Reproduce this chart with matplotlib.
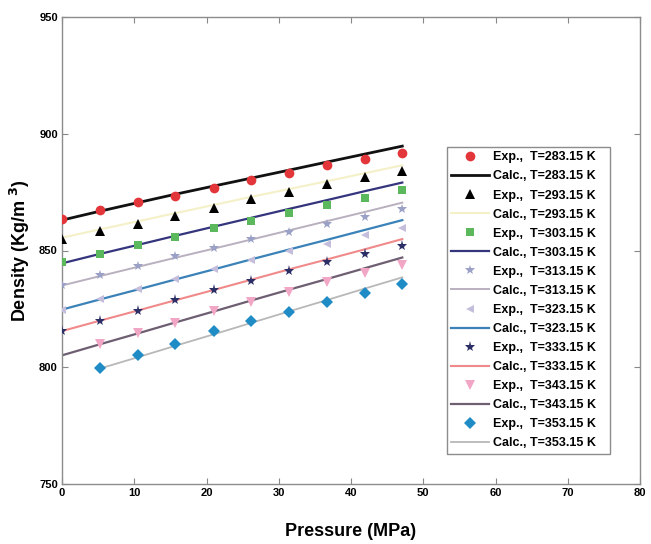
import numpy as np
import matplotlib
matplotlib.use('Agg')
import matplotlib.pyplot as plt

plt.rcParams['font.family'] = ['Liberation Sans', 'DejaVu Sans']
plt.rcParams['font.weight'] = 'bold'

# pressure grid (MPa)
pressure = [0, 5.2, 10.5, 15.7, 21.0, 26.2, 31.4, 36.7, 41.9, 47.1]
pressure_hi = pressure[1:]  # series that start at the second pressure

# experimental densities (kg/m3)
exp_283 = [863.6, 867.4, 870.8, 873.4, 876.8, 880.2, 883.2, 886.6, 889.2, 891.8]
exp_293 = [855.0, 858.5, 861.4, 864.9, 868.3, 872.1, 875.1, 878.5, 881.5, 884.1]
exp_303 = [845.0, 848.6, 852.5, 855.9, 859.7, 862.7, 866.1, 869.6, 872.5, 876.0]
exp_313 = [835.4, 839.7, 843.5, 847.8, 851.2, 855.0, 858.0, 861.4, 864.4, 867.8]
exp_323 = [824.7, 829.4, 833.7, 838.0, 842.2, 846.1, 849.9, 852.9, 856.8, 859.7]
exp_333 = [815.5, 819.8, 824.3, 828.6, 833.1, 837.1, 841.1, 844.9, 848.5, 852.1]
exp_343 = [809.8, 814.5, 818.8, 824.3, 827.9, 832.1, 836.4, 840.3, 844.0]
exp_353 = [799.8, 805.1, 810.1, 815.5, 819.6, 823.6, 827.9, 831.8, 835.7]

# calculated densities (kg/m3)
calc_283 = [863.0, 866.8, 870.5, 874.1, 877.6, 881.0, 884.4, 887.9, 891.3, 894.7]
calc_293 = [855.5, 859.0, 862.5, 866.0, 869.5, 873.0, 876.3, 879.7, 883.1, 886.5]
calc_303 = [844.5, 848.5, 852.4, 856.3, 860.2, 864.0, 867.8, 871.6, 875.4, 879.1]
calc_313 = [835.0, 839.0, 843.0, 846.9, 850.8, 854.7, 858.6, 862.6, 866.5, 870.5]
calc_323 = [824.7, 829.0, 833.3, 837.6, 841.9, 846.2, 850.4, 854.6, 858.8, 863.0]
calc_333 = [815.5, 819.9, 824.3, 828.7, 833.1, 837.5, 841.9, 846.2, 850.5, 854.9]
calc_343 = [805.1, 809.8, 814.5, 819.2, 823.9, 828.6, 833.2, 837.8, 842.4, 847.0]
calc_353 = [799.4, 804.3, 809.2, 814.1, 819.0, 823.9, 828.8, 833.7, 838.5]

temps = ['283.15', '293.15', '303.15', '313.15', '323.15', '333.15', '343.15', '353.15']

exp_sets = [exp_283, exp_293, exp_303, exp_313, exp_323, exp_333, exp_343, exp_353]
calc_sets = [calc_283, calc_293, calc_303, calc_313, calc_323, calc_333, calc_343, calc_353]
exp_x = [pressure] * 6 + [pressure_hi] * 2
calc_x = [pressure] * 7 + [pressure_hi]

markers = ['o', '^', 's', '*', '<', '*', 'v', 'D']
msizes = [7, 7, 6, 7, 6, 8, 7, 6]
mcolors = ['#e2363a', '#000000', '#5cb85c', '#9aa0c6', '#c4bedc', '#2c2f66', '#f2a6c6', '#1f8cc6']
lcolors = ['#111111', '#f4f0c8', '#35357e', '#b9b0bf', '#3b82b8', '#f08a8a', '#6e5e72', '#b8b8b8']
lwidths = [2.0, 1.5, 1.6, 1.4, 1.6, 1.5, 1.6, 1.3]

fig = plt.figure(figsize=(6.51, 5.44), dpi=100)
ax = fig.add_axes([62 / 651, 1 - 484 / 544, 578 / 651, 467 / 544])

handles = []
labels = []
for i, t in enumerate(temps):
    h1, = ax.plot(exp_x[i], exp_sets[i], linestyle='none', marker=markers[i],
                  markersize=msizes[i], color=mcolors[i], markeredgewidth=0, zorder=3)
    h2, = ax.plot(calc_x[i], calc_sets[i], color=lcolors[i], linewidth=lwidths[i], zorder=2)
    handles += [h1, h2]
    labels += [f'Exp.,  T={t} K', f'Calc., T={t} K']

ax.set_xlim(0, 80)
ax.set_ylim(750, 950)
ax.set_xticks(np.arange(0, 81, 10))
ax.set_yticks(np.arange(750, 951, 50))
ax.tick_params(direction='in', top=True, right=True, length=4, width=0.8,
               labelsize=8, color='#888888', pad=3)
for s in ax.spines.values():
    s.set_color('#8c8c8c')
    s.set_linewidth(1.0)

ax.set_xlabel('Pressure (MPa)', fontsize=13, fontweight='bold', labelpad=18)
ax.set_ylabel('Density (Kg/m $^3$)', fontsize=13, fontweight='bold', labelpad=5)

leg = fig.legend(handles, labels, loc='upper left',
                 bbox_to_anchor=(447 / 651, 1 - 449 / 544, 163 / 651, 302 / 544),
                 mode='expand', fontsize=9, handlelength=3.0, handletextpad=0.3,
                 labelspacing=0.565, borderpad=0.35, borderaxespad=0, fancybox=False,
                 framealpha=1, edgecolor='#8c8c8c')
leg.get_frame().set_linewidth(1.0)

fig.savefig('out.png', dpi=100)
